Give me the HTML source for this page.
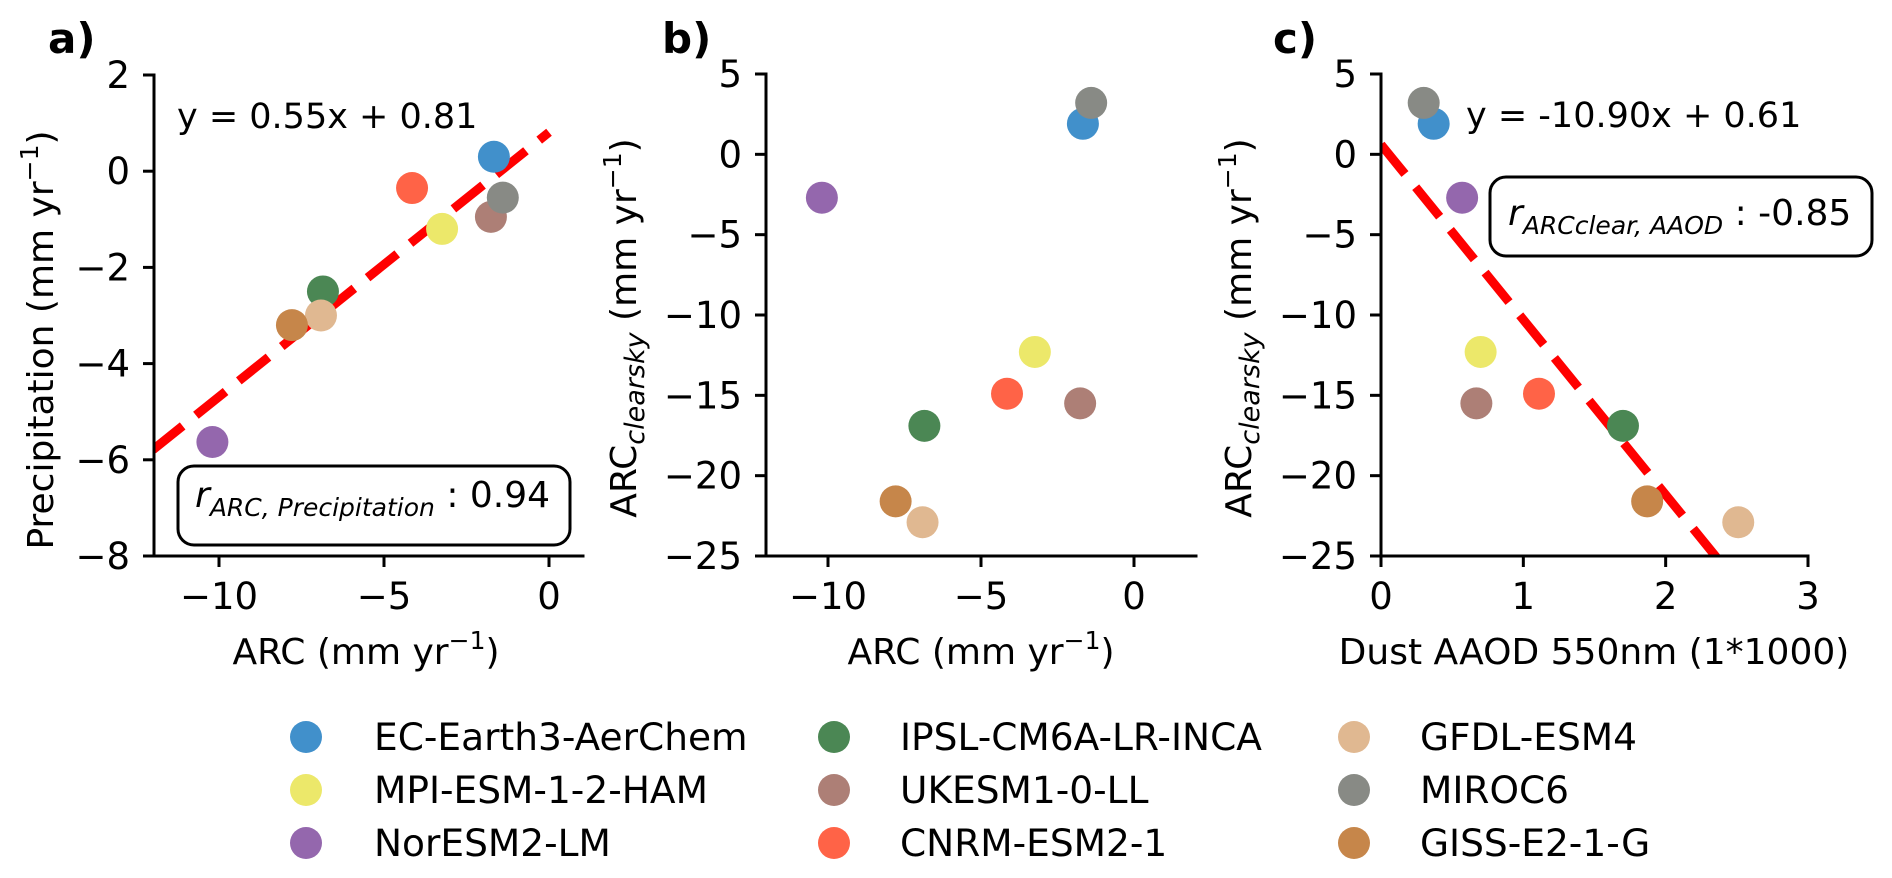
<!DOCTYPE html>
<html><head><meta charset="utf-8"><style>
html,body{margin:0;padding:0;background:#fff;}
svg{display:block;font-family:"DejaVu Sans","Liberation Sans",sans-serif;}
</style></head><body>
<svg id="fig" width="1892" height="878" viewBox="0 0 1892 878"></svg>
<script>
const models = ["EC-Earth3-AerChem","MPI-ESM-1-2-HAM","NorESM2-LM","IPSL-CM6A-LR-INCA","UKESM1-0-LL","CNRM-ESM2-1","GFDL-ESM4","MIROC6","GISS-E2-1-G"];
const colors = ["#4190cb","#ece86a","#9467ad","#4b8754","#ad7f76","#ff6347","#e0b891","#888a85","#c6864a"];
const arc = [-1.67,-3.24,-10.2,-6.85,-1.76,-4.15,-6.91,-1.4,-7.79];
const precip = [0.3,-1.2,-5.63,-2.5,-0.95,-0.35,-3.0,-0.55,-3.2];
const arcClear = [1.9,-12.3,-2.7,-16.9,-15.5,-14.9,-22.9,3.2,-21.6];
const aaod = [0.37,0.70,0.57,1.70,0.67,1.11,2.51,0.30,1.87];
const fitA = [0.55,0.81];
const fitC = [-10.90,0.61];
const ticksAX = [-10,-5,0], ticksAY = [2,0,-2,-4,-6,-8];
const ticksBX = [-10,-5,0], ticksBY = [5,0,-5,-10,-15,-20,-25];
const ticksCX = [0,1,2,3], ticksCY = [5,0,-5,-10,-15,-20,-25];

const NS="http://www.w3.org/2000/svg";
const svg=document.getElementById('fig');
function el(t,a,p){const e=document.createElementNS(NS,t);for(const k in a)e.setAttribute(k,a[k]);(p||svg).appendChild(e);return e;}
function lin(d0,d1,p0,p1){return v=>p0+(v-d0)*(p1-p0)/(d1-d0);}
function fmt(v){return v<0?"\u2212"+Math.abs(v):String(v);}

function panel(cfg){
  const g=el('g',{});
  
  
  const sx=lin(cfg.xd[0],cfg.xd[1],cfg.xp[0],cfg.xp[1]);
  const sy=lin(cfg.yd[0],cfg.yd[1],cfg.yp[0],cfg.yp[1]);
  const L=cfg.left,R=cfg.right,T=cfg.top,B=cfg.bottom;
  const clipId=cfg.name+'-clip';
  const cp=el('clipPath',{id:clipId},g);el('rect',{x:L,y:T-20,width:R-L,height:B-T+20},cp);
  if(cfg.fit){
    const x0=cfg.fitRange[0],x1=cfg.fitRange[1];
    const fl=el('line',{x1:sx(x0),y1:sy(cfg.fit[0]*x0+cfg.fit[1]),x2:sx(x1),y2:sy(cfg.fit[0]*x1+cfg.fit[1]),stroke:'#ff0000','stroke-width':9,'stroke-dasharray':'38 17','clip-path':'url(#'+clipId+')'},g);
    
    
  }
  for(let i=0;i<models.length;i++){
    const c=el('circle',{cx:sx(cfg.xs[i]),cy:sy(cfg.ys[i]),r:16,fill:colors[i]},g);
    
    
  }
  const ys=el('line',{x1:L,y1:T,x2:L,y2:B,stroke:'#000','stroke-width':3,'stroke-linecap':'square'},g);
  
  
  const xs=el('line',{x1:L,y1:B,x2:R,y2:B,stroke:'#000','stroke-width':3,'stroke-linecap':'square'},g);
  
  
  cfg.tx.forEach(v=>{
    const x=sx(v);
    el('line',{x1:x,y1:B,x2:x,y2:B+11,stroke:'#000','stroke-width':3},g);
    const t=el('text',{x:x,y:609,'font-size':37,'text-anchor':'middle'},g);t.textContent=fmt(v);
    
    
  });
  cfg.ty.forEach(v=>{
    const y=sy(v);
    el('line',{x1:L-11,y1:y,x2:L,y2:y,stroke:'#000','stroke-width':3},g);
    const t=el('text',{x:L-24,y:y+13,'font-size':37,'text-anchor':'end'},g);t.textContent=fmt(v);
    
    
  });
  return {g,sx,sy};
}

const A=panel({name:'panel-a',left:154,right:583,top:75,bottom:556,xd:[-10,0],xp:[219,549],yd:[2,-8],yp:[75,556],xs:arc,ys:precip,tx:ticksAX,ty:ticksAY,fit:fitA,fitRange:[-12,0]});
const B=panel({name:'panel-b',left:766,right:1196,top:74,bottom:556,xd:[-10,0],xp:[828,1134],yd:[5,-25],yp:[74,556],xs:arc,ys:arcClear,tx:ticksBX,ty:ticksBY});
const C=panel({name:'panel-c',left:1381,right:1808,top:74,bottom:556,xd:[0,3],xp:[1381,1808],yd:[5,-25],yp:[74,556],xs:aaod,ys:arcClear,tx:ticksCX,ty:ticksCY,fit:fitC,fitRange:[0,2.6]});
</script>
<svg width="1892" height="878" viewBox="0 0 1892 878" style="position:absolute;left:0;top:0;font-family:'DejaVu Sans','Liberation Sans',sans-serif">
  <text x="48" y="53" font-size="42" font-weight="bold">a)</text>
  <text x="662" y="53" font-size="42" font-weight="bold">b)</text>
  <text x="1273" y="53" font-size="42" font-weight="bold">c)</text>

  <text x="177" y="128" font-size="35">y = 0.55x + 0.81</text>
  <text x="1466" y="127" font-size="35">y = -10.90x + 0.61</text>

  <rect x="178" y="466" width="392" height="79" rx="16" fill="#fff" stroke="#000" stroke-width="3"/>
  <text x="195" y="507" font-size="36"><tspan font-style="italic">r</tspan><tspan font-style="italic" font-size="25" dy="9">ARC, Precipitation</tspan><tspan dy="-9"> : 0.94</tspan></text>

  <rect x="1490" y="177" width="382" height="79" rx="16" fill="#fff" stroke="#000" stroke-width="3"/>
  <text x="1508" y="225" font-size="36"><tspan font-style="italic">r</tspan><tspan font-style="italic" font-size="25" dy="9">ARCclear, AAOD</tspan><tspan dy="-9"> : -0.85</tspan></text>

  <text x="366" y="664" font-size="36" text-anchor="middle">ARC (mm yr<tspan font-size="25" dy="-15">−1</tspan><tspan dy="15">)</tspan></text>
  <text x="981" y="664" font-size="36" text-anchor="middle">ARC (mm yr<tspan font-size="25" dy="-15">−1</tspan><tspan dy="15">)</tspan></text>
  <text x="1594" y="664" font-size="36" text-anchor="middle">Dust AAOD 550nm (1*1000)</text>

  <text transform="translate(53,340) rotate(-90)" font-size="36" text-anchor="middle">Precipitation (mm yr<tspan font-size="25" dy="-15">−1</tspan><tspan dy="15">)</tspan></text>
  <text transform="translate(636,328) rotate(-90)" font-size="36" text-anchor="middle">ARC<tspan font-style="italic" font-size="27" dy="8">clearsky</tspan><tspan dy="-8"> (mm yr</tspan><tspan font-size="25" dy="-15">−1</tspan><tspan dy="15">)</tspan></text>
  <text transform="translate(1251,328) rotate(-90)" font-size="36" text-anchor="middle">ARC<tspan font-style="italic" font-size="27" dy="8">clearsky</tspan><tspan dy="-8"> (mm yr</tspan><tspan font-size="25" dy="-15">−1</tspan><tspan dy="15">)</tspan></text>

  <g font-size="37.5">
    <g><circle cx="306" cy="737" r="16" fill="#4190cb"/><text x="374" y="750">EC-Earth3-AerChem</text></g>
    <g><circle cx="306" cy="790" r="16" fill="#ece86a"/><text x="374" y="803">MPI-ESM-1-2-HAM</text></g>
    <g><circle cx="306" cy="843" r="16" fill="#9467ad"/><text x="374" y="856">NorESM2-LM</text></g>
    <g><circle cx="834" cy="737" r="16" fill="#4b8754"/><text x="900" y="750">IPSL-CM6A-LR-INCA</text></g>
    <g><circle cx="834" cy="790" r="16" fill="#ad7f76"/><text x="900" y="803">UKESM1-0-LL</text></g>
    <g><circle cx="834" cy="843" r="16" fill="#ff6347"/><text x="900" y="856">CNRM-ESM2-1</text></g>
    <g><circle cx="1354" cy="737" r="16" fill="#e0b891"/><text x="1420" y="750">GFDL-ESM4</text></g>
    <g><circle cx="1354" cy="790" r="16" fill="#888a85"/><text x="1420" y="803">MIROC6</text></g>
    <g><circle cx="1354" cy="843" r="16" fill="#c6864a"/><text x="1420" y="856">GISS-E2-1-G</text></g>
  </g>
</svg>
</body></html>
